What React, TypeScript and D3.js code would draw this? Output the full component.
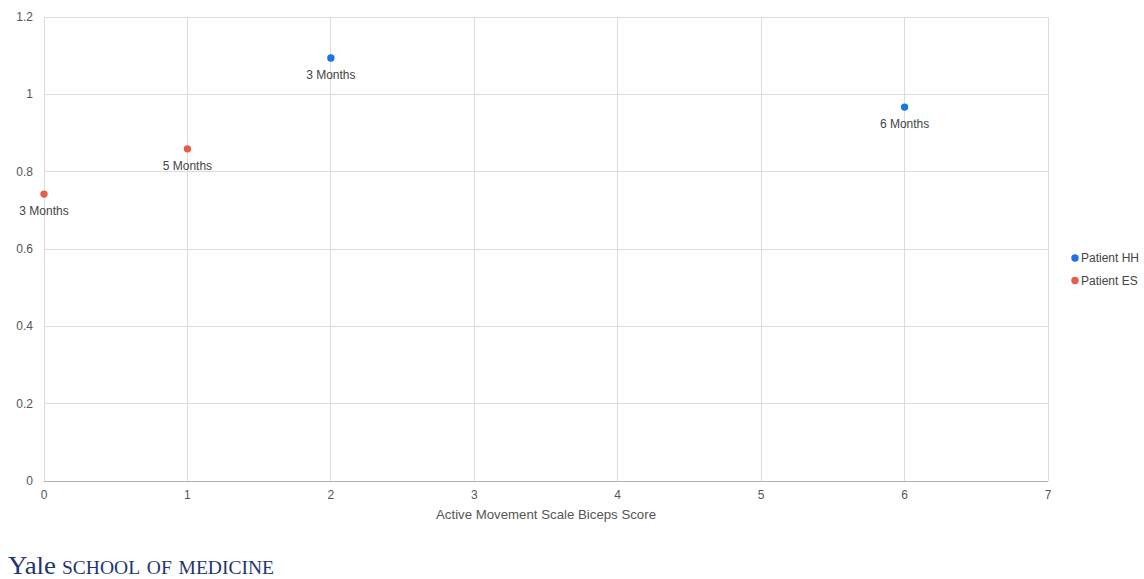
import React from "react";
import * as d3 from "d3";

const hhX = [2, 6];
const hhY = [1.094, 0.967];
const hhLabels = ["3 Months", "6 Months"];
const esX = [0, 1];
const esY = [0.742, 0.859];
const esLabels = ["3 Months", "5 Months"];
const xTicks = [0, 1, 2, 3, 4, 5, 6, 7];
const yTicks = [0, 0.2, 0.4, 0.6, 0.8, 1, 1.2];
const seriesNames = ["Patient HH", "Patient ES"];
const colors = ["#1a73e8", "#ea5b4a"];

export default function App() {
  const W = 1144, H = 579;
  const x = d3.scaleLinear().domain([0, 7]).range([44, 1048]);
  const y = d3.scaleLinear().domain([0, 1.2]).range([481, 17]);
  const font = "Arial, 'Liberation Sans', sans-serif";
  const series = [
    { xs: hhX, ys: hhY, labels: hhLabels, color: colors[0] },
    { xs: esX, ys: esY, labels: esLabels, color: colors[1] },
  ];
  return (
    <svg width={W} height={H} style={{ position: "absolute", left: 0, top: 0 }} fontFamily={font}>
      <rect width={W} height={H} fill="#fff" />
      {yTicks.map((t) => (
        <line key={"gy" + t} x1={44} x2={1048} y1={y(t)} y2={y(t)} stroke={t === 0 ? "#b0b0b0" : "#dcdcdc"} strokeWidth={1} shapeRendering="crispEdges" />
      ))}
      {xTicks.map((t) => (
        <line key={"gx" + t} x1={x(t)} x2={x(t)} y1={17} y2={481} stroke="#dcdcdc" strokeWidth={1} shapeRendering="crispEdges" />
      ))}
      {yTicks.map((t) => (
        <text key={"ty" + t} x={33} y={y(t) + 4} textAnchor="end" fontSize={12} fill="#555">{d3.format("~g")(t)}</text>
      ))}
      {xTicks.map((t) => (
        <text key={"tx" + t} x={x(t)} y={499} textAnchor="middle" fontSize={12} fill="#555">{t}</text>
      ))}
      <text x={546} y={519} textAnchor="middle" fontSize={13} fill="#555" textLength={220} lengthAdjust="spacingAndGlyphs">Active Movement Scale Biceps Score</text>
      {series.map((s, si) => (
        <g key={si}>
          {s.xs.map((xv, i) => (
            <g key={i}>
              <circle cx={x(xv)} cy={y(s.ys[i])} r={3.7} fill={s.color} />
              <text x={x(xv)} y={y(s.ys[i]) + 21} textAnchor="middle" fontSize={12} fill="#444">{s.labels[i]}</text>
            </g>
          ))}
        </g>
      ))}
      {seriesNames.map((n, i) => (
        <g key={n}>
          <circle cx={1075} cy={258 + i * 22.5} r={3.7} fill={colors[i]} />
          <text x={1081} y={262 + i * 22.5} fontSize={12} fill="#444">{n}</text>
        </g>
      ))}
      <text x={8} y={574} fill="#1d3670" fontFamily="'Liberation Serif', 'DejaVu Serif', serif">
        <tspan fontSize={25} textLength={48} lengthAdjust="spacingAndGlyphs">Yale</tspan>
        <tspan x={62} fontSize={25} style={{ fontVariant: "small-caps" }} textLength={212} lengthAdjust="spacingAndGlyphs">school of medicine</tspan>
      </text>
    </svg>
  );
}
